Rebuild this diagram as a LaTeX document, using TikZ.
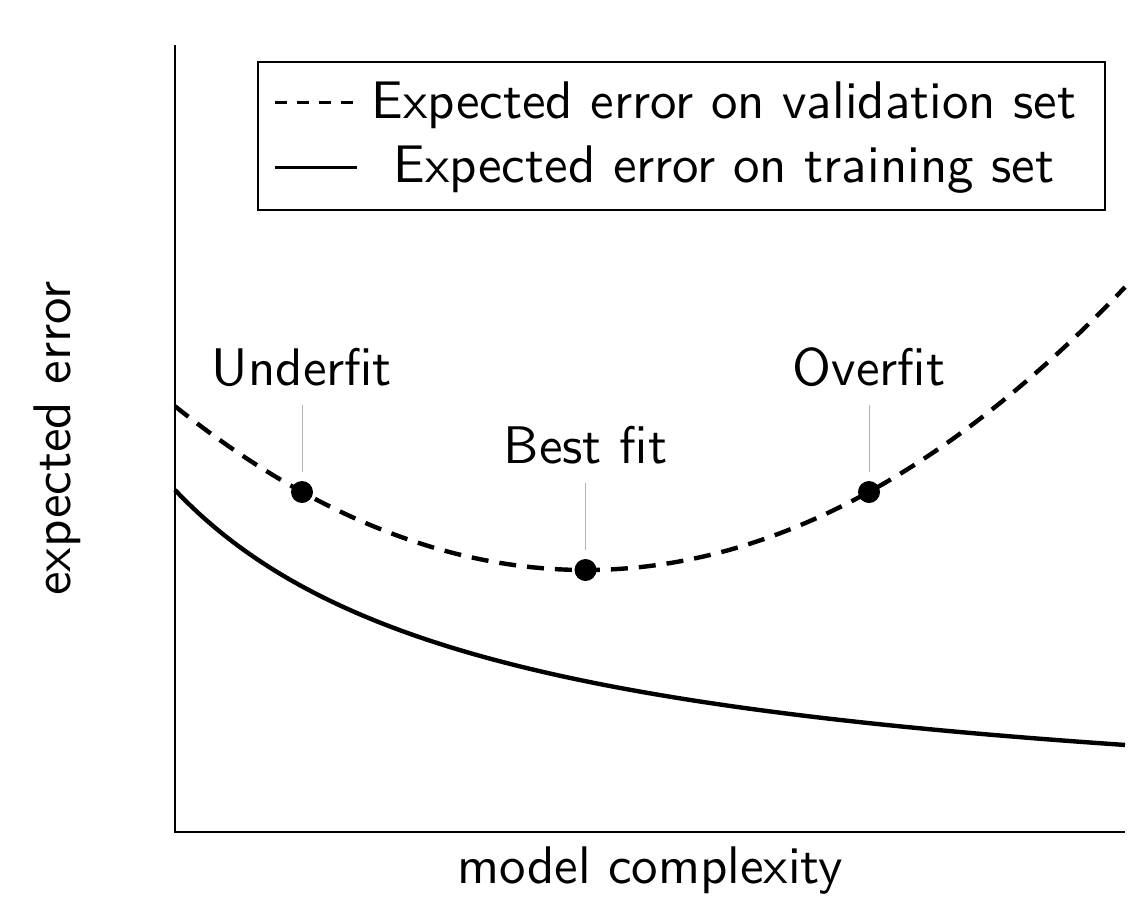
\documentclass[tikz,border=0pt]{standalone}
\usepackage{fontspec}
\begin{document}
\begin{tikzpicture}[x=0.5pt,y=-0.5pt,
  txt/.style={font=\sffamily, scale=2.645, inner sep=0pt},
  axisline/.style={line width=1.1pt},
  curve/.style={line width=2.2pt},
  valcurve/.style={curve, dash pattern=on 8.5pt off 5.5pt},
  legline/.style={line width=1.5pt},
  legdash/.style={legline, dash pattern=on 6pt off 5pt},
  dot/.style={circle, fill=black, inner sep=0pt, minimum size=11pt},
  pinline/.style={line width=0.5pt, draw=black!30},
  legbox/.style={draw, line width=0.8pt, minimum width=423.5pt, minimum height=74pt, inner sep=0pt},
]
\useasboundingbox (0,0) rectangle (1146,906);
% axes
\coordinate (ytop) at (175,45);
\coordinate (origin) at (175,832);
\coordinate (xend) at (1125,832);
\draw[axisline] (ytop) -- (origin) -- (xend);
% curves
\draw[valcurve] plot[domain=175:1125, samples=120, smooth]
  (\x, {570 - (0.031177*(\x-585.5))*(0.031177*(\x-585.5))});
\draw[curve] plot[domain=175:1125, samples=120, smooth]
  (\x, {831.7 - 1104.5/((\x+148.2)/100)});
% points
\node[dot] (ud) at (302,492) {};
\node[dot] (bd) at (585.5,570) {};
\node[dot] (od) at (869,492) {};
% labels
\node[txt, anchor=base] (ul) at (302,385) {Underfit};
\node[txt, anchor=base] (bl) at (585.5,463) {Best fit};
\node[txt, anchor=base] (ol) at (869,385) {Overfit};
\draw[pinline, shorten <=9pt, shorten >=4.3pt] (ul.south) -- (ud.north);
\draw[pinline, shorten <=9pt, shorten >=4.3pt] (bl.south) -- (bd.north);
\draw[pinline, shorten <=9pt, shorten >=4.3pt] (ol.south) -- (od.north);
% legend
\node[legbox] (leg) at (681.5,136) {};
\node[txt, anchor=base] (lt1) at (724,118) {Expected error on validation set};
\node[txt, anchor=base] (lt2) at (724,182) {Expected error on training set};
\coordinate (ls1a) at (275,102);
\coordinate (ls1b) at (357,102);
\coordinate (ls2a) at (275,167);
\coordinate (ls2b) at (357,167);
\draw[legdash] (ls1a) -- (ls1b);
\draw[legline] (ls2a) -- (ls2b);
% axis labels
\node[txt, anchor=base] (xl) at (650,883) {model complexity};
\node[txt, anchor=base, rotate=90] (yl) at (70.7,438.5) {expected error};
\end{tikzpicture}
\end{document}
